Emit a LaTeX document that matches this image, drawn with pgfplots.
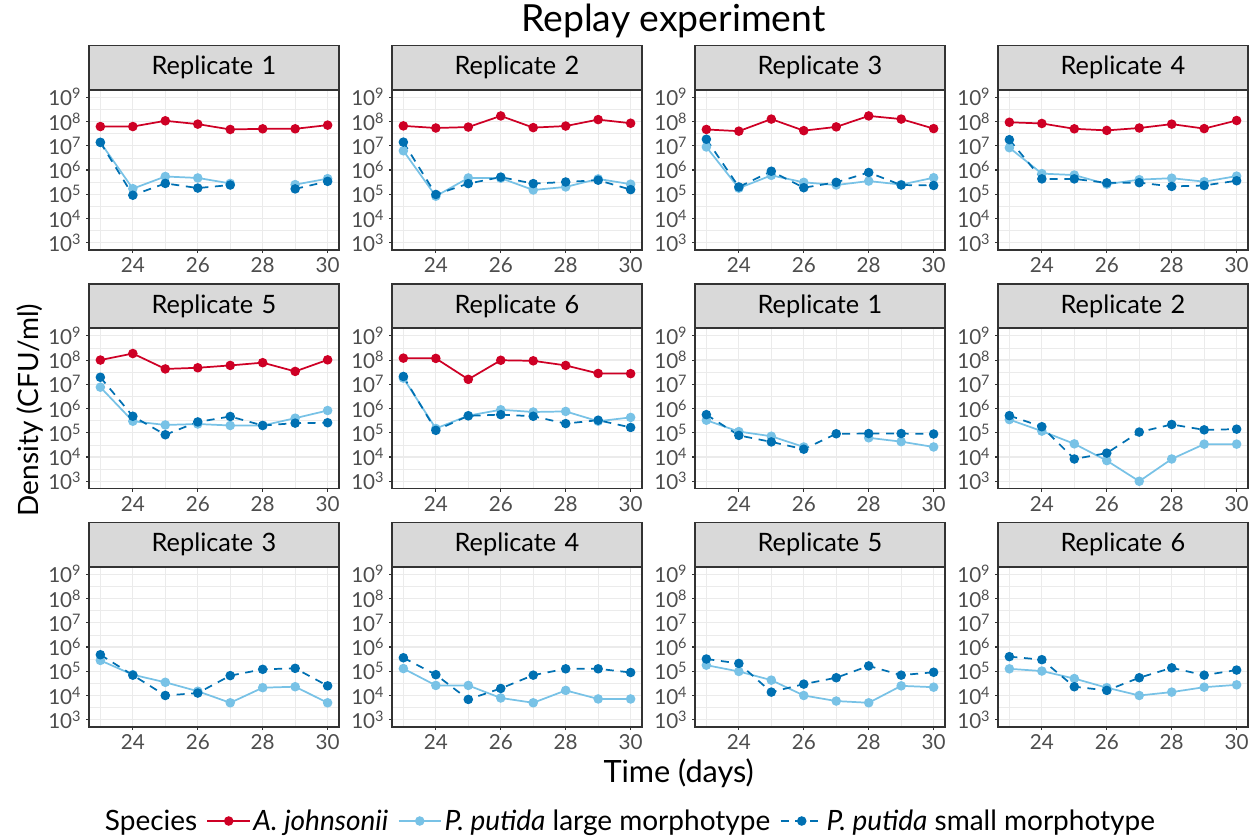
\documentclass[border=0pt]{standalone}
\usepackage{pgfplots}
\pgfplotsset{compat=1.18}
\usepackage{pgfplotstable}
\usepackage{fontspec}
\setmainfont{Lato}
\definecolor{ajred}{HTML}{CE0025}
\definecolor{lightblue}{HTML}{78C2E6}
\definecolor{darkblue}{HTML}{0070B2}
\definecolor{gridgray}{HTML}{EBEBEB}
\definecolor{bordergray}{HTML}{333333}
\definecolor{labelgray}{HTML}{4D4D4D}
\definecolor{stripgray}{HTML}{D9D9D9}

\pgfplotstableread{
day aj large small
23 6.2e7 1.38e7 1.38e7
24 6.2e7 1.7e5 9.1e4
25 1.07e8 5.4e5 2.8e5
26 7.8e7 4.7e5 1.8e5
27 4.7e7 2.8e5 2.4e5
28 5.0e7 nan nan
29 5.0e7 2.5e5 1.66e5
30 7.1e7 4.4e5 3.4e5
}\dataA
\pgfplotstableread{
day aj large small
23 6.6e7 6.2e6 1.41e7
24 5.4e7 8.3e4 9.8e4
25 5.9e7 4.7e5 2.75e5
26 1.7e8 4.6e5 5.1e5
27 5.6e7 1.5e5 2.75e5
28 6.5e7 2.0e5 3.2e5
29 1.2e8 4.3e5 3.8e5
30 8.5e7 2.6e5 1.55e5
}\dataB
\pgfplotstableread{
day aj large small
23 4.7e7 8.9e6 1.86e7
24 4.0e7 1.78e5 2.0e5
25 1.26e8 6.0e5 8.9e5
26 4.2e7 3.1e5 1.86e5
27 6.0e7 2.4e5 3.1e5
28 1.7e8 3.5e5 7.9e5
29 1.26e8 2.5e5 2.4e5
30 5.1e7 4.8e5 2.3e5
}\dataC
\pgfplotstableread{
day aj large small
23 9.3e7 8.3e6 1.78e7
24 8.3e7 7.1e5 4.3e5
25 5.0e7 6.2e5 4.3e5
26 4.3e7 2.6e5 2.95e5
27 5.4e7 4.0e5 3.0e5
28 7.8e7 4.6e5 2.1e5
29 5.1e7 3.3e5 2.3e5
30 1.1e8 5.6e5 3.6e5
}\dataD
\pgfplotstableread{
day aj large small
23 1.0e8 7.6e6 1.95e7
24 1.86e8 3.0e5 4.8e5
25 4.3e7 2.1e5 8.3e4
26 4.8e7 2.3e5 2.8e5
27 6.0e7 2.0e5 4.7e5
28 7.8e7 2.0e5 2.0e5
29 3.4e7 4.0e5 2.5e5
30 1.02e8 8.3e5 2.6e5
}\dataE
\pgfplotstableread{
day aj large small
23 1.2e8 1.8e7 2.1e7
24 1.17e8 1.5e5 1.26e5
25 1.6e7 5.1e5 5.0e5
26 9.8e7 8.9e5 5.6e5
27 9.3e7 7.2e5 4.8e5
28 6.0e7 7.6e5 2.4e5
29 2.8e7 3.0e5 3.3e5
30 2.75e7 4.3e5 1.66e5
}\dataF
\pgfplotstableread{
day large small
23 3.3e5 5.6e5
24 1.12e5 7.8e4
25 7.2e4 4.2e4
26 2.6e4 2.1e4
27 nan 9.1e4
28 6.2e4 9.3e4
29 4.3e4 9.3e4
30 2.6e4 8.9e4
}\dataG
\pgfplotstableread{
day large small
23 3.5e5 5.1e5
24 1.17e5 1.78e5
25 3.5e4 8.3e3
26 7.1e3 1.45e4
27 1.0e3 1.07e5
28 8.3e3 2.2e5
29 3.4e4 1.32e5
30 3.4e4 1.41e5
}\dataH
\pgfplotstableread{
day large small
23 2.8e5 4.8e5
24 7.2e4 6.9e4
25 3.5e4 1.0e4
26 1.5e4 1.26e4
27 5.0e3 6.6e4
28 2.1e4 1.2e5
29 2.3e4 1.32e5
30 5.0e3 2.5e4
}\dataI
\pgfplotstableread{
day large small
23 1.29e5 3.6e5
24 2.6e4 7.2e4
25 2.6e4 6.9e3
26 7.9e3 1.95e4
27 5.0e3 6.9e4
28 1.62e4 1.26e5
29 7.2e3 1.26e5
30 7.2e3 8.9e4
}\dataJ
\pgfplotstableread{
day large small
23 1.78e5 3.2e5
24 9.8e4 2.1e5
25 4.3e4 1.38e4
26 1.0e4 2.95e4
27 5.9e3 5.4e4
28 5.0e3 1.66e5
29 2.5e4 6.9e4
30 2.2e4 9.1e4
}\dataK
\pgfplotstableread{
day large small
23 1.26e5 4.0e5
24 1.02e5 3.0e5
25 5.0e4 2.3e4
26 2.1e4 1.62e4
27 1.0e4 5.4e4
28 1.38e4 1.38e5
29 2.2e4 6.9e4
30 2.75e4 1.12e5
}\dataL

\pgfplotsset{
  ajstyle/.style={color=ajred, line width=1.3pt, mark=*, mark size=2.9pt, mark options={solid}},
  largestyle/.style={color=lightblue, line width=1.3pt, mark=*, mark size=2.9pt, mark options={solid}},
  smallstyle/.style={color=darkblue, line width=1.3pt, mark=*, mark size=2.9pt, dash pattern=on 6pt off 5pt, mark options={solid}},
  mypanel/.style={
    scale only axis, width=187.5pt, height=120pt, anchor=north west,
    xmin=22.65, xmax=30.35, ymin=501.19, ymax=1.995e9,
    xtick={24,26,28,30}, xticklabels={24,26,28,30},
    minor xtick={23,25,27,29},
    ytick={1e3,1e4,1e5,1e6,1e7,1e8,1e9},
    yticklabels={10\textsuperscript{3},10\textsuperscript{4},10\textsuperscript{5},10\textsuperscript{6},10\textsuperscript{7},10\textsuperscript{8},10\textsuperscript{9}},
    minor ytick={3162.3,31623,316228,3162278,31622777,316227766},
    grid=both,
    major grid style={color=gridgray, line width=0.85pt},
    minor grid style={color=gridgray, line width=0.45pt},
    axis line style={draw=bordergray, line width=1pt},
    tick align=outside, xtick pos=left, ytick pos=left,
    major tick length=2.25pt, minor tick length=0pt,
    tick style={color=bordergray, line width=0.8pt},
    tick label style={font=\fontsize{15.5}{17}\selectfont, text=labelgray},
    unbounded coords=jump,
    every axis title shift=0pt,
    title style={at={(0.5,1)}, anchor=south, yshift=0pt, fill=stripgray, draw=bordergray, line width=1pt,
      inner sep=0pt, text width=187.5pt, align=center, minimum height=33pt,
      font=\fontsize{19}{22}\selectfont, text=black},
  },
}

\begin{document}
\begin{tikzpicture}
\path[use as bounding box] (0,0) rectangle (942pt,-629.25pt);

% Row 1
\begin{semilogyaxis}[mypanel, at={(66.75pt,-67.5pt)}, title={Replicate 1}]
\addplot[ajstyle] table[x=day,y=aj]{\dataA};
\addplot[largestyle] table[x=day,y=large]{\dataA};
\addplot[smallstyle] table[x=day,y=small]{\dataA};
\end{semilogyaxis}
\begin{semilogyaxis}[mypanel, at={(294pt,-67.5pt)}, title={Replicate 2}]
\addplot[ajstyle] table[x=day,y=aj]{\dataB};
\addplot[largestyle] table[x=day,y=large]{\dataB};
\addplot[smallstyle] table[x=day,y=small]{\dataB};
\end{semilogyaxis}
\begin{semilogyaxis}[mypanel, at={(521.25pt,-67.5pt)}, title={Replicate 3}]
\addplot[ajstyle] table[x=day,y=aj]{\dataC};
\addplot[largestyle] table[x=day,y=large]{\dataC};
\addplot[smallstyle] table[x=day,y=small]{\dataC};
\end{semilogyaxis}
\begin{semilogyaxis}[mypanel, at={(748.5pt,-67.5pt)}, title={Replicate 4}]
\addplot[ajstyle] table[x=day,y=aj]{\dataD};
\addplot[largestyle] table[x=day,y=large]{\dataD};
\addplot[smallstyle] table[x=day,y=small]{\dataD};
\end{semilogyaxis}

% Row 2
\begin{semilogyaxis}[mypanel, at={(66.75pt,-246.4pt)}, title={Replicate 5}]
\addplot[ajstyle] table[x=day,y=aj]{\dataE};
\addplot[largestyle] table[x=day,y=large]{\dataE};
\addplot[smallstyle] table[x=day,y=small]{\dataE};
\end{semilogyaxis}
\begin{semilogyaxis}[mypanel, at={(294pt,-246.4pt)}, title={Replicate 6}]
\addplot[ajstyle] table[x=day,y=aj]{\dataF};
\addplot[largestyle] table[x=day,y=large]{\dataF};
\addplot[smallstyle] table[x=day,y=small]{\dataF};
\end{semilogyaxis}
\begin{semilogyaxis}[mypanel, at={(521.25pt,-246.4pt)}, title={Replicate 1}]
\addplot[largestyle] table[x=day,y=large]{\dataG};
\addplot[smallstyle] table[x=day,y=small]{\dataG};
\end{semilogyaxis}
\begin{semilogyaxis}[mypanel, at={(748.5pt,-246.4pt)}, title={Replicate 2}]
\addplot[largestyle] table[x=day,y=large]{\dataH};
\addplot[smallstyle] table[x=day,y=small]{\dataH};
\end{semilogyaxis}

% Row 3
\begin{semilogyaxis}[mypanel, at={(66.75pt,-425.25pt)}, title={Replicate 3}]
\addplot[largestyle] table[x=day,y=large]{\dataI};
\addplot[smallstyle] table[x=day,y=small]{\dataI};
\end{semilogyaxis}
\begin{semilogyaxis}[mypanel, at={(294pt,-425.25pt)}, title={Replicate 4}]
\addplot[largestyle] table[x=day,y=large]{\dataJ};
\addplot[smallstyle] table[x=day,y=small]{\dataJ};
\end{semilogyaxis}
\begin{semilogyaxis}[mypanel, at={(521.25pt,-425.25pt)}, title={Replicate 5}]
\addplot[largestyle] table[x=day,y=large]{\dataK};
\addplot[smallstyle] table[x=day,y=small]{\dataK};
\end{semilogyaxis}
\begin{semilogyaxis}[mypanel, at={(748.5pt,-425.25pt)}, title={Replicate 6}]
\addplot[largestyle] table[x=day,y=large]{\dataL};
\addplot[smallstyle] table[x=day,y=small]{\dataL};
\end{semilogyaxis}

% Legend
\begin{axis}[hide axis, scale only axis, width=1pt, height=1pt, anchor=center,
  at={(472.5pt,-615.75pt)}, xmin=0, xmax=1, ymin=0, ymax=1,
  legend columns=4,
  legend style={at={(0.5,0.5)}, anchor=center, draw=none, fill=none,
    font=\fontsize{21}{25}\selectfont, legend cell align=left,
    /tikz/every even column/.append style={column sep=5pt}},
  legend image code/.code={\draw[mark repeat=2, mark phase=2] plot coordinates {(0cm,0cm) (0.56cm,0cm) (1.12cm,0cm)};}]
\addlegendimage{empty legend}
\addlegendentry{Species\hspace{12pt}}
\addlegendimage{ajstyle}
\addlegendentry{\textit{A. johnsonii}}
\addlegendimage{largestyle}
\addlegendentry{\textit{P. putida} large morphotype}
\addlegendimage{smallstyle}
\addlegendentry{\textit{P. putida} small morphotype}
\end{axis}

% Titles
\node[font=\fontsize{28}{32}\selectfont] at (505pt,-16pt) {Replay experiment};
\node[font=\fontsize{21}{25}\selectfont, rotate=90] at (22.5pt,-307.5pt) {Density (CFU/ml)};
\node[font=\fontsize{23}{27}\selectfont] at (509pt,-580pt) {Time (days)};
\end{tikzpicture}
\end{document}
